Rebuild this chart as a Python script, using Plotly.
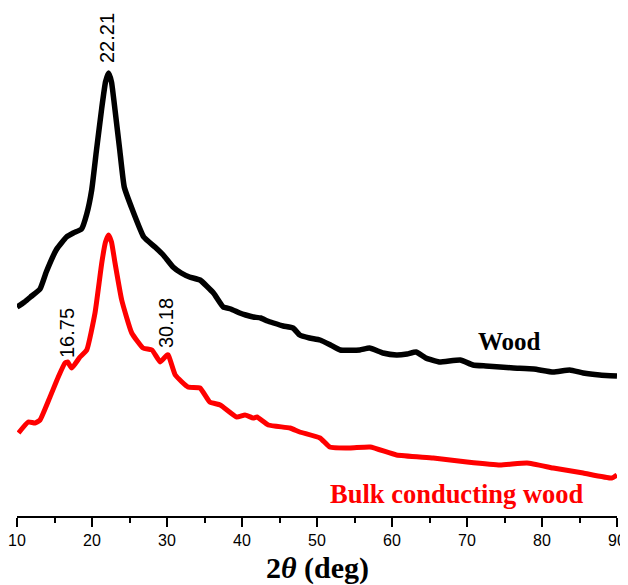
import plotly.graph_objects as go

# 2theta (deg) and intensity (a.u.)
wood_x = [10, 11, 11.8, 13.07, 13.9, 15.3, 16.6, 17.5, 18.6, 19.3, 19.96, 20.6, 21.3, 21.8, 22.21,
          22.6, 23.07, 23.7, 24.3, 25.4, 26.9, 28.4, 29.5, 30.8, 31.9, 33.0, 34.4, 36.2, 37.5, 38.5,
          39.7, 40.5, 41.5, 42.5, 43.4, 44.2, 45.5, 46.8, 47.7, 49.0, 50.4, 51.8, 53.1, 55.7, 57.0,
          58.8, 60.6, 62.0, 63.2, 64.5, 66.3, 69.1, 70.8, 72.5, 74.4, 76.2, 78.9, 81.5, 83.7, 85.5,
          87.7, 90]
wood_y = [209, 214, 219, 227, 244, 267, 279, 283, 287, 302, 326, 366, 408, 434, 443,
          434, 406, 366, 329, 306, 279, 269, 261, 249, 243, 239, 236, 223, 209, 207,
          203, 201, 199, 198, 195, 193, 190, 188, 181, 178, 176, 171, 166, 166, 168,
          163, 161, 162, 164, 158, 154, 156, 151, 150, 149, 148, 147, 144, 146, 143,
          141, 140]

bulk_x = [10.2, 11.5, 12.4, 13.07, 14.4, 15.5, 16.4, 16.75, 17.3, 18.4, 19.3, 20.4, 21.3, 21.8,
          22.21, 22.6, 23.07, 23.96, 25.3, 26.8, 28.0, 29.1, 30.0, 30.18, 31.1, 32.8, 34.4, 35.7,
          37.1, 39.3, 40.4, 41.5, 42.0, 43.5, 46.4, 47.7, 50.4, 51.7, 54.4, 57.1, 60.6, 65.5, 70,
          74.4, 78, 81.5, 85.5, 89.3, 90]
bulk_y = [83, 94, 93, 96, 119, 139, 153, 154, 148, 159, 166, 203, 253, 274,
          281, 274, 253, 216, 183, 168, 166, 154, 161, 161, 141, 129, 128, 114,
          111, 99, 101, 98, 99, 91, 88, 84, 78, 69, 68, 69, 61, 58, 54,
          51, 53, 48, 43, 38, 41]

x_ticks = [10, 20, 30, 40, 50, 60, 70, 80, 90]
peak_labels = ["22.21", "16.75", "30.18"]
peak_pos = [(22.0, 478), (16.67, 183), (29.87, 193)]

fig = go.Figure()
fig.add_trace(go.Scatter(x=wood_x, y=wood_y, mode="lines", name="Wood",
                         line=dict(color="black", width=5.5, shape="spline", smoothing=0.4)))
fig.add_trace(go.Scatter(x=bulk_x, y=bulk_y, mode="lines", name="Bulk conducting wood",
                         line=dict(color="red", width=5, shape="spline", smoothing=0.4)))

for lab, (px, py) in zip(peak_labels, peak_pos):
    fig.add_annotation(x=px, y=py, text=lab, showarrow=False, textangle=-90,
                       font=dict(family="Liberation Sans, Arial", size=20, color="black"))

fig.add_annotation(x=75.6, y=175, text="<b>Wood</b>", showarrow=False,
                   font=dict(family="Liberation Serif, Times New Roman", size=25, color="black"))
fig.add_annotation(x=68.7, y=22, text="<b>Bulk conducting wood</b>", showarrow=False,
                   font=dict(family="Liberation Serif, Times New Roman", size=26.5, color="red"))

# axis title as annotation for precise placement
fig.add_annotation(xref="paper", yref="paper", x=0.5, y=0, yshift=-52, yanchor="middle",
                   text="<b>2<i>θ</i> (deg)</b>", showarrow=False,
                   font=dict(family="Liberation Serif, Times New Roman", size=30, color="black"))

# the page body has an 8px default margin, so the figure is 8px smaller
fig.update_layout(
    width=620, height=577,
    margin=dict(l=9, r=11, t=0, b=69),
    plot_bgcolor="white", paper_bgcolor="white",
    showlegend=False,
    xaxis=dict(range=[10, 90], tickvals=x_ticks, ticktext=[str(t) for t in x_ticks],
               automargin=False,
               showgrid=False, zeroline=False, showline=True, linecolor="black", linewidth=2,
               ticks="outside", ticklen=9, tickwidth=2, tickcolor="black",
               minor=dict(dtick=5, ticks="outside", ticklen=5, tickwidth=2, tickcolor="black"),
               tickfont=dict(family="Liberation Sans, Arial", size=16, color="black")),
    yaxis=dict(range=[0, 508], visible=False, showgrid=False, zeroline=False, automargin=False),
)

fig.write_html("out.html")
